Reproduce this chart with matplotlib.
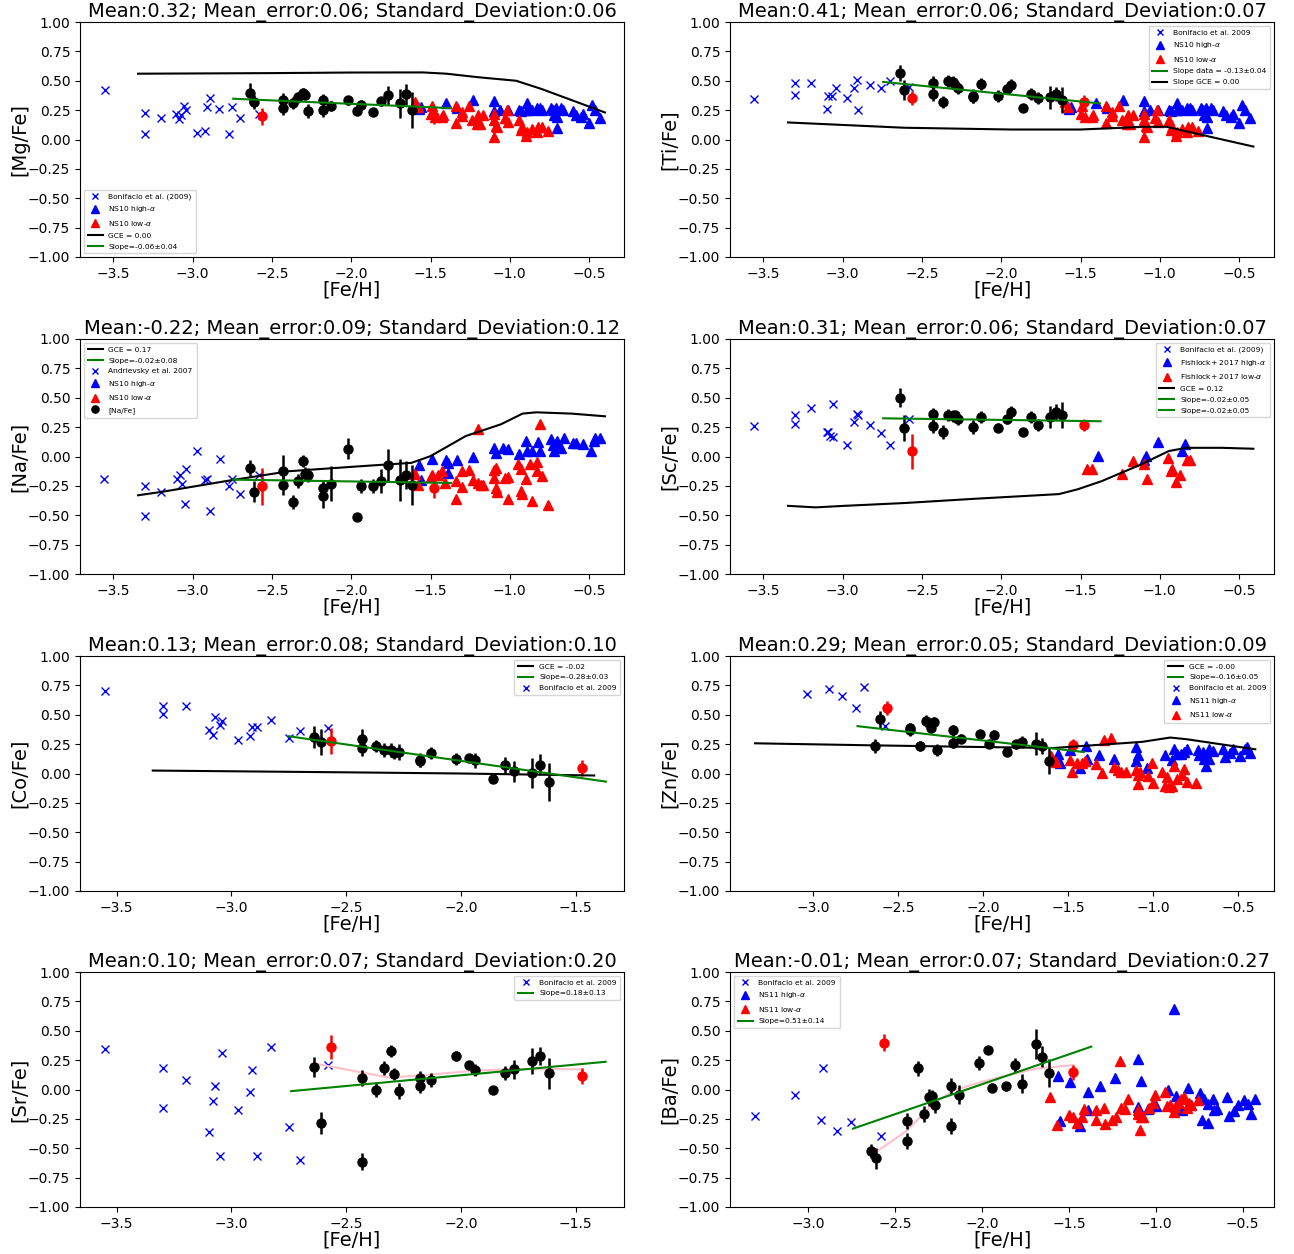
import numpy as np
import matplotlib
matplotlib.use("Agg")
import matplotlib.pyplot as plt
from matplotlib.lines import Line2D

# ---------------- common star data ----------------
feh_stars = [-2.64, -2.61, -2.43, -2.43, -2.37, -2.335, -2.305, -2.29, -2.27, -2.18, -2.18,
             -2.13, -2.02, -1.965, -1.94, -1.86, -1.81, -1.77, -1.69, -1.655, -1.615]
feh_red = [-2.565, -1.475]

# ---------------- [Mg/Fe] ----------------
mg_y = [0.398, 0.318, 0.335, 0.267, 0.313, 0.358, 0.392, 0.381, 0.244, 0.335, 0.25, 0.284, 0.332,
        0.244, 0.295, 0.236, 0.324, 0.375, 0.307, 0.386, 0.25]
mg_err = [0.085, 0.06, 0.06, 0.06, 0.05, 0.05, 0.05, 0.03, 0.06, 0.05, 0.06, 0.04, 0.04, 0.03, 0.04,
          0.03, 0.04, 0.08, 0.12, 0.09, 0.15]
mg_red_y = [0.196, 0.20]
mg_red_err = [0.07, 0.07]
mg_bon_x = [-3.551, -3.302, -3.302, -3.202, -3.104, -3.084, -3.073, -3.053, -3.042, -2.971, -2.922,
            -2.911, -2.891, -2.833, -2.773, -2.753, -2.702, -2.584]
mg_bon_y = [0.423, 0.222, 0.043, 0.185, 0.213, 0.173, 0.207, 0.284, 0.247, 0.054, 0.074, 0.273, 0.352,
            0.261, 0.051, 0.273, 0.185, 0.213]
mg_gce_x = [-3.344, -2.5, -2.0, -1.55, -1.4, -1.2, -0.96, -0.8, -0.6, -0.4]
mg_gce_y = [0.56, 0.565, 0.57, 0.571, 0.56, 0.53, 0.50, 0.43, 0.33, 0.23]
mg_fit_x = [-2.744, -1.371]
mg_fit_y = [0.347, 0.267]

# NS10 (used in Mg and Ti panels)
ns10_hi_x = [-1.56, -1.57, -1.40, -1.33, -1.23, -1.10, -1.10, -1.06, -1.01, -0.94, -0.93, -0.89, -0.89,
             -0.86, -0.83, -0.81, -0.80, -0.74, -0.73, -0.72, -0.71, -0.70, -0.70, -0.68, -0.665, -0.60,
             -0.58, -0.55, -0.54, -0.50, -0.48, -0.46, -0.43]
ns10_hi_y = [0.28, 0.26, 0.31, 0.27, 0.335, 0.33, 0.245, 0.25, 0.25, 0.25, 0.245, 0.31, 0.25, 0.255,
             0.265, 0.27, 0.25, 0.27, 0.25, 0.21, 0.265, 0.19, 0.10, 0.265, 0.25, 0.245, 0.21, 0.19, 0.22,
             0.14, 0.29, 0.25, 0.18]
ns10_lo_x = [-1.60, -1.58, -1.49, -1.50, -1.47, -1.43, -1.42, -1.34, -1.34, -1.30, -1.30, -1.26, -1.24,
             -1.21, -1.20, -1.19, -1.17, -1.10, -1.10, -1.09, -1.10, -1.08, -1.03, -1.02, -1.01, -0.94,
             -0.93, -0.92, -0.90, -0.89, -0.86, -0.83, -0.82, -0.80, -0.76]
ns10_lo_y = [0.32, 0.28, 0.285, 0.22, 0.19, 0.19, 0.21, 0.285, 0.14, 0.235, 0.20, 0.285, 0.165, 0.135,
             0.21, 0.135, 0.21, 0.22, 0.165, 0.115, 0.02, 0.11, 0.18, 0.25, 0.15, 0.165, 0.08, 0.11, 0.03,
             0.065, 0.09, 0.06, 0.11, 0.11, 0.07]

# ---------------- [Ti/Fe] ----------------
ti_y = [0.568, 0.42, 0.477, 0.384, 0.32, 0.50, 0.49, 0.463, 0.435, 0.37, 0.358, 0.47, 0.37, 0.43, 0.463,
        0.27, 0.386, 0.35, 0.358, 0.386, 0.335]
ti_err = [0.07, 0.085, 0.06, 0.06, 0.05, 0.05, 0.05, 0.05, 0.05, 0.06, 0.05, 0.05, 0.05, 0.04, 0.05,
          0.03, 0.05, 0.05, 0.10, 0.06, 0.11]
ti_red_y = [0.352, 0.318]
ti_red_err = [0.06, 0.06]
ti_bon_x = [-3.556, -3.30, -3.30, -3.20, -3.10, -3.09, -3.07, -3.04, -2.97, -2.93, -2.91, -2.90, -2.83,
            -2.76, -2.70, -2.58]
ti_bon_y = [0.344, 0.48, 0.38, 0.48, 0.26, 0.37, 0.37, 0.435, 0.355, 0.44, 0.51, 0.255, 0.46, 0.44,
            0.50, 0.45]
ti_gce_x = [-3.344, -2.61, -1.94, -1.5, -1.10, -0.956, -0.77, -0.41]
ti_gce_y = [0.145, 0.10, 0.085, 0.085, 0.108, 0.108, 0.05, -0.06]
ti_fit_x = [-2.744, -1.378]
ti_fit_y = [0.49, 0.307]

# ---------------- [Na/Fe] ----------------
na_y = [-0.097, -0.30, -0.12, -0.24, -0.385, -0.21, -0.037, -0.15, -0.154, -0.27, -0.336, -0.23, 0.065,
        -0.516, -0.254, -0.254, -0.21, -0.074, -0.20, -0.16, -0.24]
na_err = [0.07, 0.09, 0.13, 0.09, 0.06, 0.06, 0.05, 0.06, 0.06, 0.07, 0.10, 0.15, 0.09, 0.01, 0.06, 0.06,
          0.10, 0.14, 0.18, 0.12, 0.17]
na_red_y = [-0.254, -0.27]
na_red_err = [0.16, 0.08]
na_and_x = [-3.556, -3.30, -3.30, -3.20, -3.10, -3.08, -3.07, -3.04, -3.05, -2.97, -2.92, -2.91, -2.89,
            -2.83, -2.77, -2.75, -2.70, -2.58]
na_and_y = [-0.195, -0.25, -0.51, -0.30, -0.195, -0.16, -0.23, -0.105, -0.40, 0.05, -0.20, -0.19, -0.46,
            -0.02, -0.25, -0.195, -0.32, -0.16]
na_gce_x = [-3.344, -3.19, -2.77, -2.39, -1.944, -1.62, -1.5, -1.278, -1.056, -0.92, -0.833, -0.61, -0.40]
na_gce_y = [-0.33, -0.30, -0.205, -0.125, -0.083, -0.054, 0.003, 0.174, 0.274, 0.365, 0.376, 0.365, 0.342]
na_fit_x = [-2.744, -1.371]
na_fit_y = [-0.197, -0.225]
na_hi_x = [-1.57, -1.56, -1.49, -1.40, -1.39, -1.39, -1.33, -1.23, -1.10, -1.09, -1.04, -1.01, -0.94,
           -0.90, -0.89, -0.86, -0.82, -0.81, -0.74, -0.73, -0.72, -0.71, -0.70, -0.68, -0.66, -0.60,
           -0.58, -0.54, -0.49, -0.47, -0.46, -0.43]
na_hi_y = [-0.074, -0.197, -0.02, -0.031, -0.14, -0.057, -0.034, -0.003, 0.074, 0.026, 0.074, 0.068,
           0.023, 0.13, 0.051, 0.051, 0.125, 0.051, 0.145, 0.10, 0.051, 0.108, 0.13, 0.074, 0.154, 0.117,
           0.117, 0.108, 0.046, 0.13, 0.154, 0.154]
na_lo_x = [-1.60, -1.58, -1.50, -1.49, -1.45, -1.43, -1.41, -1.34, -1.34, -1.30, -1.30, -1.26, -1.23,
           -1.20, -1.20, -1.18, -1.17, -1.10, -1.10, -1.09, -1.09, -1.08, -1.03, -1.01, -1.01, -0.95,
           -0.93, -0.93, -0.92, -0.90, -0.87, -0.86, -0.83, -0.83, -0.81, -0.80, -0.76]
na_lo_y = [-0.148, -0.245, -0.177, -0.16, -0.16, -0.125, -0.228, -0.21, -0.36, -0.26, -0.12, -0.114,
           -0.20, 0.23, -0.225, -0.24, -0.24, -0.182, -0.111, -0.268, -0.097, -0.30, -0.182, -0.36,
           -0.177, -0.063, -0.105, -0.296, -0.32, -0.188, -0.068, -0.38, -0.048, -0.125, 0.28, -0.162,
           -0.41]

# ---------------- [Sc/Fe] ----------------
sc_y = [0.50, 0.24, 0.36, 0.26, 0.21, 0.356, 0.345, 0.35, 0.32, 0.254, np.nan, 0.336, 0.245, 0.32, 0.376,
        0.208, 0.336, 0.268, 0.336, 0.38, 0.353]
sc_err = [0.08, 0.11, 0.05, 0.06, 0.06, 0.05, 0.05, 0.04, 0.05, 0.06, np.nan, 0.05, 0.04, 0.04, 0.05,
          0.03, 0.05, 0.05, 0.09, 0.07, 0.11]
sc_red_y = [0.043, 0.268]
sc_red_err = [0.15, 0.05]
sc_bon_x = [-3.556, -3.30, -3.30, -3.20, -3.10, -3.09, -3.08, -3.06, -3.06, -2.97, -2.93, -2.91, -2.90,
            -2.83, -2.76, -2.70, -2.58]
sc_bon_y = [0.262, 0.353, 0.28, 0.413, 0.21, 0.21, 0.174, 0.162, 0.444, 0.10, 0.29, 0.36, 0.35, 0.268,
            0.20, 0.10, 0.316]
sc_gce_x = [-3.344, -3.17, -2.99, -2.61, -2.17, -1.636, -1.52, -1.367, -1.122, -0.944, -0.833, -0.61, -0.41]
sc_gce_y = [-0.42, -0.433, -0.42, -0.396, -0.36, -0.32, -0.28, -0.21, -0.07, 0.046, 0.074, 0.074, 0.066]
sc_fit_x = [-2.744, -1.373]
sc_fit_y = [0.325, 0.30]
sc_hi_x = [-1.39, -1.10, -1.09, -1.01, -0.86, -0.84]
sc_hi_y = [0.003, -0.034, 0.003, 0.125, 0.046, 0.11]
sc_lo_x = [-1.46, -1.43, -1.24, -1.17, -1.10, -1.08, -0.95, -0.93, -0.92, -0.90, -0.87, -0.83, -0.81]
sc_lo_y = [-0.105, -0.105, -0.148, -0.04, -0.068, -0.188, -0.017, -0.125, -0.11, -0.217, -0.154, -0.034,
           -0.031]

# ---------------- [Co/Fe] ----------------
co_y = [0.311, 0.269, 0.291, 0.22, 0.234, 0.197, 0.20, 0.177, 0.183, 0.117, 0.103, 0.177, 0.126, 0.134,
        0.111, -0.051, 0.069, 0.02, 0.003, 0.074, -0.074]
co_err = [0.09, 0.11, 0.09, 0.07, 0.05, 0.06, 0.06, 0.05, 0.07, 0.06, 0.05, 0.05, 0.05, 0.02, 0.06, 0.03,
          0.07, 0.09, 0.13, 0.09, 0.16]
co_red_y = [0.274, 0.049]
co_red_err = [0.11, 0.07]
co_bon_x = [-3.551, -3.30, -3.30, -3.20, -3.072, -3.10, -3.082, -3.05, -3.04, -2.97, -2.92, -2.91, -2.89,
            -2.83, -2.75, -2.70, -2.58]
co_bon_y = [0.706, 0.574, 0.503, 0.574, 0.483, 0.371, 0.331, 0.411, 0.446, 0.283, 0.317, 0.397, 0.397,
            0.454, 0.303, 0.363, 0.389]
co_gce_x = [-3.343, -2.5, -2.0, -1.42]
co_gce_y = [0.025, 0.01, 0.0, -0.017]
co_fit_x = [-2.75, -1.369]
co_fit_y = [0.317, -0.069]

# ---------------- [Zn/Fe] ----------------
zn_y = [0.231, 0.46, 0.383, 0.369, 0.234, 0.446, 0.389, 0.44, 0.197, 0.366, 0.263, 0.297, 0.334, 0.254,
        0.331, 0.18, 0.249, 0.266, 0.254, 0.234, 0.103]
zn_err = [0.06, 0.07, 0.05, 0.05, 0.04, 0.05, 0.04, 0.04, 0.05, 0.05, 0.05, 0.04, 0.03, 0.03, 0.04, 0.03,
          0.04, 0.05, 0.10, 0.07, 0.11]
zn_red_y = [0.554, 0.246]
zn_red_err = [0.06, 0.05]
zn_bon_x = [-3.04, -2.91, -2.83, -2.75, -2.70, -2.58]
zn_bon_y = [0.674, 0.717, 0.663, 0.554, 0.734, 0.406]
zn_gce_x = [-3.343, -2.667, -2.04, -1.586, -1.42, -1.067, -0.90, -0.80, -0.59, -0.40]
zn_gce_y = [0.257, 0.24, 0.226, 0.217, 0.234, 0.269, 0.306, 0.291, 0.246, 0.206]
zn_fit_x = [-2.74, -1.41]
zn_fit_y = [0.403, 0.183]
ns11_zn_hi_x = [-1.56, -1.55, -1.49, -1.43, -1.395, -1.39, -1.32, -1.23, -1.10, -1.09, -1.10, -1.04,
                -0.93, -0.89, -0.88, -0.86, -0.84, -0.82, -0.80, -0.74, -0.73, -0.71, -0.70, -0.69,
                -0.67, -0.67, -0.65, -0.59, -0.58, -0.55, -0.53, -0.49, -0.46, -0.45, -0.43]
ns11_zn_hi_y = [0.163, 0.091, 0.197, 0.046, 0.231, 0.123, 0.154, 0.123, 0.226, 0.154, 0.103, 0.049,
                0.154, 0.111, 0.211, 0.163, 0.169, 0.183, 0.211, 0.197, 0.154, 0.183, 0.126, 0.063,
                0.211, 0.12, 0.189, 0.211, 0.14, 0.174, 0.211, 0.146, 0.211, 0.226, 0.177]
ns11_zn_lo_x = [-1.60, -1.57, -1.49, -1.48, -1.45, -1.42, -1.40, -1.34, -1.30, -1.29, -1.25, -1.23,
                -1.21, -1.19, -1.16, -1.10, -1.09, -1.08, -1.09, -1.03, -1.01, -1.00, -0.95, -0.92,
                -0.91, -0.93, -0.89, -0.88, -0.86, -0.83, -0.82, -0.80, -0.75]
ns11_zn_lo_y = [0.149, 0.097, 0.111, 0.017, 0.091, 0.091, 0.103, 0.083, 0.006, 0.283, 0.306, 0.054,
                0.026, 0.011, 0.011, 0.026, -0.017, 0.011, -0.089, -0.023, 0.091, -0.08, 0.011, -0.031,
                -0.117, -0.109, -0.103, 0.063, -0.051, -0.017, 0.04, -0.069, -0.08]

# ---------------- [Sr/Fe] ----------------
sr_y = [0.188, -0.285, 0.10, -0.613, 0.0, 0.185, 0.325, 0.131, -0.014, 0.094, 0.028, 0.08, 0.285, 0.211,
        0.168, -0.006, 0.142, 0.171, 0.245, 0.285, 0.137]
sr_err = [0.085, 0.09, 0.07, 0.07, 0.06, 0.06, 0.05, 0.05, 0.07, 0.06, 0.06, 0.06, 0.04, 0.03, 0.05,
          0.03, 0.06, 0.08, 0.11, 0.08, 0.13]
sr_red_y = [0.362, 0.114]
sr_red_err = [0.10, 0.07]
sr_bon_x = [-3.55, -3.30, -3.30, -3.20, -3.07, -3.08, -3.10, -3.05, -3.04, -2.97, -2.92, -2.91, -2.89,
            -2.83, -2.75, -2.70, -2.58]
sr_bon_y = [0.342, 0.182, -0.157, 0.08, 0.031, -0.097, -0.359, -0.567, 0.313, -0.177, -0.02, 0.162,
            -0.567, 0.362, -0.319, -0.598, 0.211]
sr_run_x = [-2.64, -2.31, -2.13, -1.94, -1.78, -1.61, -1.47]
sr_run_y = [0.222, 0.10, 0.128, 0.16, 0.174, 0.174, 0.171]
sr_fit_x = [-2.74, -1.37]
sr_fit_y = [-0.014, 0.236]

# ---------------- [Ba/Fe] ----------------
ba_y = [-0.527, -0.584, -0.268, -0.439, 0.179, -0.208, -0.068, -0.057, -0.131, 0.028, -0.31, -0.043,
        0.225, 0.336, 0.017, 0.028, 0.211, 0.048, 0.387, 0.279, 0.142]
ba_err = [0.06, 0.09, 0.07, 0.07, 0.06, 0.07, 0.07, 0.05, 0.07, 0.07, 0.07, 0.08, 0.06, 0.02, 0.04, 0.04,
          0.06, 0.08, 0.13, 0.09, 0.12]
ba_red_y = [0.399, 0.145]
ba_red_err = [0.07, 0.06]
ba_bon_x = [-3.304, -3.075, -2.913, -2.925, -2.834, -2.753, -2.584]
ba_bon_y = [-0.228, -0.048, 0.185, -0.259, -0.35, -0.279, -0.399]
ba_run_x = [-2.625, -2.43, -2.28, -2.16, -2.0, -1.87, -1.69, -1.475]
ba_run_y = [-0.547, -0.348, -0.12, -0.006, 0.066, 0.114, 0.177, 0.208]
ba_fit_x = [-2.742, -1.371]
ba_fit_y = [-0.333, 0.365]
ns11_ba_hi_x = [-0.895, -1.564, -1.493, -1.554, -1.436, -1.39, -1.39, -1.32, -1.233, -1.10, -1.083, -1.10,
                -1.043, -1.0, -0.931, -0.884, -0.85, -0.812, -0.797, -0.744, -0.735, -0.72, -0.70, -0.70,
                -0.67, -0.667, -0.65, -0.592, -0.58, -0.55, -0.53, -0.49, -0.47, -0.45, -0.43]
ns11_ba_hi_y = [0.684, 0.114, 0.06, -0.268, -0.31, -0.02, -0.177, 0.031, 0.094, 0.256, 0.071, -0.148,
                -0.162, -0.142, -0.006, -0.057, -0.171, 0.009, -0.134, -0.028, -0.256, -0.085, -0.282,
                -0.125, -0.085, -0.171, -0.162, -0.068, -0.228, -0.182, -0.134, -0.091, -0.12, -0.211,
                -0.077]
ns11_ba_lo_x = [-1.607, -1.57, -1.50, -1.479, -1.452, -1.422, -1.412, -1.347, -1.343, -1.30, -1.294,
                -1.25, -1.229, -1.205, -1.20, -1.18, -1.16, -1.10, -1.10, -1.087, -1.093, -1.073, -1.038,
                -1.018, -1.006, -0.945, -0.937, -0.92, -0.896, -0.89, -0.87, -0.856, -0.836, -0.82,
                -0.81, -0.80, -0.755]
ns11_ba_lo_y = [-0.068, -0.305, -0.219, -0.234, -0.285, -0.231, -0.162, -0.171, -0.256, -0.154, -0.291,
                -0.256, -0.234, 0.245, -0.157, -0.162, -0.085, -0.177, -0.205, -0.234, -0.342, -0.234,
                -0.154, -0.114, -0.048, -0.02, -0.142, -0.134, -0.191, -0.148, -0.114, -0.085, -0.068,
                -0.154, -0.114, -0.134, -0.091]

titles = ["Mean:0.32; Mean_error:0.06; Standard_Deviation:0.06",
          "Mean:0.41; Mean_error:0.06; Standard_Deviation:0.07",
          "Mean:-0.22; Mean_error:0.09; Standard_Deviation:0.12",
          "Mean:0.31; Mean_error:0.06; Standard_Deviation:0.07",
          "Mean:0.13; Mean_error:0.08; Standard_Deviation:0.10",
          "Mean:0.29; Mean_error:0.05; Standard_Deviation:0.09",
          "Mean:0.10; Mean_error:0.07; Standard_Deviation:0.20",
          "Mean:-0.01; Mean_error:0.07; Standard_Deviation:0.27"]
ylabels = ["[Mg/Fe]", "[Ti/Fe]", "[Na/Fe]", "[Sc/Fe]", "[Co/Fe]", "[Zn/Fe]", "[Sr/Fe]", "[Ba/Fe]"]
xlims = [(-3.71, -0.28), (-3.71, -0.28), (-3.71, -0.28), (-3.71, -0.28),
         (-3.66, -1.29), (-3.49, -0.29), (-3.66, -1.29), (-3.45, -0.32)]

# ---------------- figure ----------------
fig = plt.figure(figsize=(12.94, 12.54), dpi=100)
col_left = [80 / 1294, 730 / 1294]
ax_w = 544 / 1294
row_top = [22, 339, 656, 972]
ax_h = 235 / 1254
axes = []
for r in range(4):
    for c in range(2):
        bottom = 1 - (row_top[r] + 235) / 1254
        axes.append(fig.add_axes([col_left[c], bottom, ax_w, ax_h]))

MS = 6.5
LEGFS = 5.4


def stars(ax, y, err, ry, rerr, label=None):
    ax.errorbar(feh_stars, y, yerr=err, fmt='o', color='black', ecolor='black', ms=MS,
                elinewidth=1.8, capsize=0, zorder=4, label=label)
    ax.errorbar(feh_red, ry, yerr=rerr, fmt='o', color='red', ecolor='red', ms=MS,
                elinewidth=1.8, capsize=0, zorder=5)


def xs(ax, x, y):
    return ax.plot(x, y, 'x', color='blue', ms=6, mew=1.0, linestyle='none', zorder=3)[0]


def tri(ax, x, y, color):
    return ax.plot(x, y, '^', color=color, ms=6.5, linestyle='none', zorder=3)[0]


def line(ax, x, y, color, lw=1.5, z=6):
    return ax.plot(x, y, '-', color=color, lw=lw, zorder=z)[0]


def leg(ax, handles, labels, loc):
    ax.legend(handles, labels, loc=loc, fontsize=LEGFS, framealpha=0.8, borderpad=0.5,
              labelspacing=0.6, handlelength=2.0, markerscale=0.8)


black_dot = Line2D([], [], marker='o', color='black', linestyle='none', ms=MS)

# Mg
ax = axes[0]
hb = xs(ax, mg_bon_x, mg_bon_y)
hh = tri(ax, ns10_hi_x, ns10_hi_y, 'blue')
hl = tri(ax, ns10_lo_x, ns10_lo_y, 'red')
stars(ax, mg_y, mg_err, mg_red_y, mg_red_err)
hg = line(ax, mg_gce_x, mg_gce_y, 'black')
hs = line(ax, mg_fit_x, mg_fit_y, 'green')
leg(ax, [hb, hh, hl, hg, hs], ["Bonifacio et al. (2009)", r"NS10 high-$\alpha$", r"NS10 low-$\alpha$",
                               "GCE = 0.00", "Slope=-0.06±0.04"], 'lower left')

# Ti
ax = axes[1]
hb = xs(ax, ti_bon_x, ti_bon_y)
hh = tri(ax, ns10_hi_x, ns10_hi_y, 'blue')
hl = tri(ax, ns10_lo_x, ns10_lo_y, 'red')
stars(ax, ti_y, ti_err, ti_red_y, ti_red_err)
hg = line(ax, ti_gce_x, ti_gce_y, 'black')
hs = line(ax, ti_fit_x, ti_fit_y, 'green')
leg(ax, [hb, hh, hl, hs, hg], ["Bonifacio et al. 2009", r"NS10 high-$\alpha$", r"NS10 low-$\alpha$",
                               "Slope data = -0.13±0.04", "Slope GCE = 0.00"], 'upper right')

# Na
ax = axes[2]
hb = xs(ax, na_and_x, na_and_y)
hh = tri(ax, na_hi_x, na_hi_y, 'blue')
hl = tri(ax, na_lo_x, na_lo_y, 'red')
stars(ax, na_y, na_err, na_red_y, na_red_err)
hg = line(ax, na_gce_x, na_gce_y, 'black')
hs = line(ax, na_fit_x, na_fit_y, 'green')
leg(ax, [hg, hs, hb, hh, hl, black_dot], ["GCE = 0.17", "Slope=-0.02±0.08", "Andrievsky et al. 2007",
                                          r"NS10 high-$\alpha$", r"NS10 low-$\alpha$", "[Na/Fe]"],
    'upper left')

# Sc
ax = axes[3]
hb = xs(ax, sc_bon_x, sc_bon_y)
hh = tri(ax, sc_hi_x, sc_hi_y, 'blue')
hl = tri(ax, sc_lo_x, sc_lo_y, 'red')
stars(ax, sc_y, sc_err, sc_red_y, sc_red_err)
hg = line(ax, sc_gce_x, sc_gce_y, 'black')
hs = line(ax, sc_fit_x, sc_fit_y, 'green')
leg(ax, [hb, hh, hl, hg, hs, hs], ["Bonifacio et al. (2009)", r"Fishlock+ 2017 high-$\alpha$",
                                   r"Fishlock+ 2017 low-$\alpha$", "GCE = 0.12", "Slope=-0.02±0.05",
                                   "Slope=-0.02±0.05"], 'upper right')

# Co
ax = axes[4]
hb = xs(ax, co_bon_x, co_bon_y)
stars(ax, co_y, co_err, co_red_y, co_red_err)
hg = line(ax, co_gce_x, co_gce_y, 'black')
hs = line(ax, co_fit_x, co_fit_y, 'green')
leg(ax, [hg, hs, hb], ["GCE = -0.02", "Slope=-0.28±0.03", "Bonifacio et al. 2009"], 'upper right')

# Zn
ax = axes[5]
hb = xs(ax, zn_bon_x, zn_bon_y)
hh = tri(ax, ns11_zn_hi_x, ns11_zn_hi_y, 'blue')
hl = tri(ax, ns11_zn_lo_x, ns11_zn_lo_y, 'red')
stars(ax, zn_y, zn_err, zn_red_y, zn_red_err)
hg = line(ax, zn_gce_x, zn_gce_y, 'black')
hs = line(ax, zn_fit_x, zn_fit_y, 'green')
leg(ax, [hg, hs, hb, hh, hl], ["GCE = -0.00", "Slope=-0.16±0.05", "Bonifacio et al. 2009",
                               r"NS11 high-$\alpha$", r"NS11 low-$\alpha$"], 'upper right')

# Sr
ax = axes[6]
hb = xs(ax, sr_bon_x, sr_bon_y)
stars(ax, sr_y, sr_err, sr_red_y, sr_red_err)
line(ax, sr_run_x, sr_run_y, 'pink', z=3)
hs = line(ax, sr_fit_x, sr_fit_y, 'green')
leg(ax, [hb, hs], ["Bonifacio et al. 2009", "Slope=0.18±0.13"], 'upper right')

# Ba
ax = axes[7]
hb = xs(ax, ba_bon_x, ba_bon_y)
hh = tri(ax, ns11_ba_hi_x, ns11_ba_hi_y, 'blue')
hl = tri(ax, ns11_ba_lo_x, ns11_ba_lo_y, 'red')
stars(ax, ba_y, ba_err, ba_red_y, ba_red_err)
line(ax, ba_run_x, ba_run_y, 'pink', z=3)
hs = line(ax, ba_fit_x, ba_fit_y, 'green')
leg(ax, [hb, hh, hl, hs], ["Bonifacio et al. 2009", r"NS11 high-$\alpha$", r"NS11 low-$\alpha$",
                           "Slope=0.51±0.14"], 'upper left')

yt = [-1.0, -0.75, -0.5, -0.25, 0.0, 0.25, 0.5, 0.75, 1.0]
for i, ax in enumerate(axes):
    ax.set_xlim(*xlims[i])
    ax.set_ylim(-1.0, 1.0)
    ax.set_yticks(yt)
    ax.tick_params(labelsize=10)
    ax.set_title(titles[i], fontsize=14, pad=3)
    ax.set_xlabel("[Fe/H]", fontsize=14, labelpad=0)
    ax.set_ylabel(ylabels[i], fontsize=14, labelpad=-1)

fig.savefig("out.png", dpi=100)
